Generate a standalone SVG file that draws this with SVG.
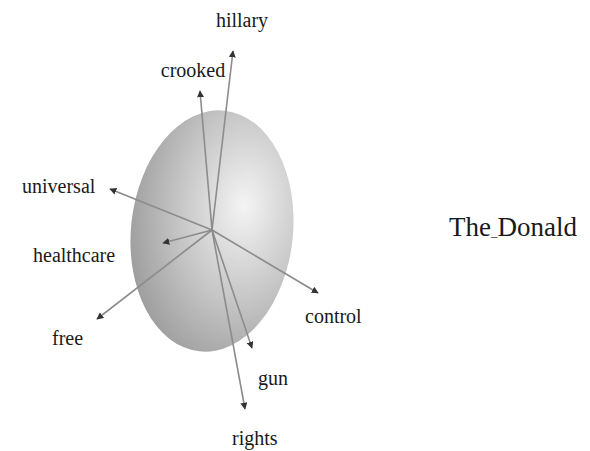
<svg xmlns="http://www.w3.org/2000/svg" width="590" height="451" viewBox="0 0 590 451">
<style>
.lbl{font-family:"Liberation Serif","Times New Roman",serif;font-size:20px;fill:#1a1a1a}
.vec{stroke:#8c8c8c;stroke-width:1.6;fill:none;marker-end:url(#ah)}
</style>
<defs>
<radialGradient id="g" cx="0.68" cy="0.38" r="0.75" fx="0.68" fy="0.38">
<stop offset="0" stop-color="#f4f4f4"/>
<stop offset="0.55" stop-color="#c4c4c4"/>
<stop offset="1" stop-color="#9a9a9a"/>
</radialGradient>
<marker id="ah" viewBox="0 0 10 10" refX="9" refY="5" markerWidth="7" markerHeight="7" markerUnits="userSpaceOnUse" orient="auto">
<path d="M0,0 L10,5 L0,10 z" fill="#333"/>
</marker>
</defs>
<rect width="590" height="451" fill="#fff"/>
<g id="sphere">
<ellipse cx="212" cy="231" rx="81" ry="121" transform="rotate(6 212 231)" fill="url(#g)"/>
</g>
<g id="connectors">
<line class="vec" x1="212" y1="230" x2="233" y2="51"/>
<line class="vec" x1="212" y1="230" x2="200" y2="91"/>
<line class="vec" x1="212" y1="230" x2="110" y2="189"/>
<line class="vec" x1="212" y1="230" x2="163" y2="243"/>
<line class="vec" x1="212" y1="230" x2="97" y2="319"/>
<line class="vec" x1="212" y1="230" x2="318" y2="293"/>
<line class="vec" x1="212" y1="230" x2="252" y2="348"/>
<line class="vec" x1="212" y1="230" x2="245" y2="409"/>
</g>
<g id="hillary"><text class="lbl" x="242" y="27" text-anchor="middle">hillary</text></g>
<g id="crooked"><text class="lbl" x="193" y="77" text-anchor="middle">crooked</text></g>
<g id="universal"><text class="lbl" x="22" y="193">universal</text></g>
<g id="healthcare"><text class="lbl" x="33" y="262">healthcare</text></g>
<g id="free"><text class="lbl" x="52" y="345">free</text></g>
<g id="control"><text class="lbl" x="305" y="323">control</text></g>
<g id="gun"><text class="lbl" x="258" y="385">gun</text></g>
<g id="rights"><text class="lbl" x="232" y="445">rights</text></g>
<g id="the-donald"><text class="lbl" x="449" y="236" style="font-size:27px">The<tspan style="font-size:13px">_</tspan>Donald</text></g>
</svg>
